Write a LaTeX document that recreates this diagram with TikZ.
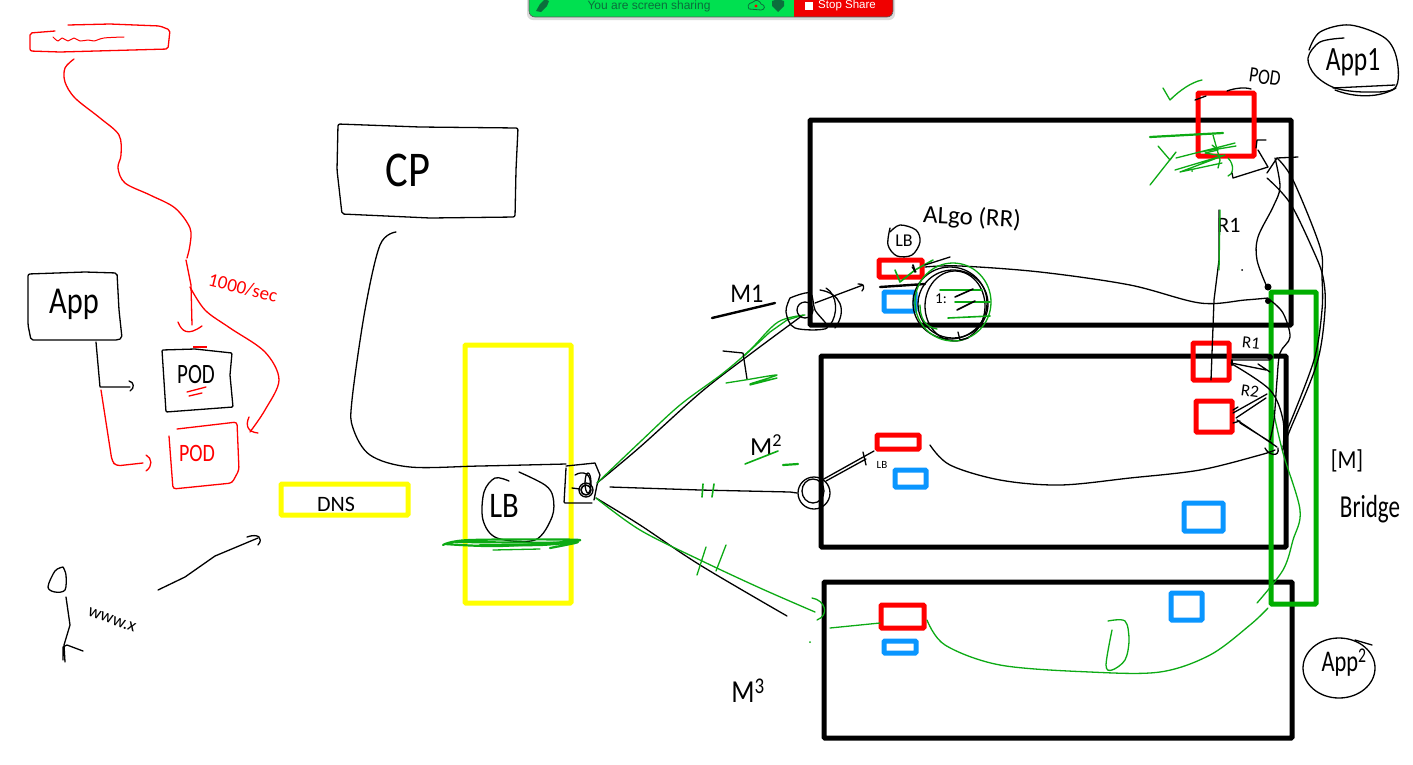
\documentclass[tikz,border=0pt]{standalone}
\usepackage{fontspec}
\setmainfont{Carlito}
\newfontfamily\barfont{Liberation Sans}
\definecolor{kred}{HTML}{FF0000}
\definecolor{kyellow}{HTML}{FFFF00}
\definecolor{kblue}{HTML}{0A96FF}
\definecolor{kgreen}{HTML}{00AE00}
\definecolor{tgreen}{HTML}{0CAA14}
\definecolor{barg}{HTML}{00E050}
\definecolor{bart}{HTML}{0B6E3C}
\definecolor{barr}{HTML}{F00000}
\newcommand\hand[2]{\draw[#1] plot[smooth,tension=.55] coordinates {#2};}
\newcommand\pbox[6]{\node[#2,minimum width={(#5-#3)*1pt},minimum height={(#6-#4)*1pt}] (#1) at ({(#3+#5)/2},{(#4+#6)/2}) {};}
\newcommand\fsz[1]{\fontsize{#1}{#1}\selectfont}
\tikzset{
  thickbox/.style={draw,line width=5pt,rounded corners=1pt,inner sep=0pt,outer sep=0pt},
  kbox/.style={thickbox,draw=black},
  rbox/.style={thickbox,draw=kred},
  ybox/.style={thickbox,draw=kyellow},
  bbox/.style={thickbox,draw=kblue},
  gbox/.style={thickbox,draw=kgreen},
  ink/.style={black,line width=1.3pt,line cap=round,line join=round},
  inkb/.style={black,line width=2.4pt,line cap=round,line join=round},
  inkr/.style={kred,line width=1.3pt,line cap=round,line join=round},
  inkg/.style={tgreen,line width=1.3pt,line cap=round,line join=round},
  inkgb/.style={tgreen,line width=2.2pt,line cap=round,line join=round},
  lab/.style={inner sep=0pt,text=black},
  labr/.style={inner sep=0pt,text=kred},
}
\begin{document}
\begin{tikzpicture}[x=1pt,y=-1pt]
\useasboundingbox (0,0) rectangle (1413,764);
\fill[white] (0,0) rectangle (1413,764);

% ---------- screen sharing bar
\begin{scope}
\clip (0,0) rectangle (1413,764);
\fill[black!14,rounded corners=6pt] (527,-12) rectangle (895,20);
\begin{scope}
\clip[rounded corners=6pt] (529,-12) rectangle (893,17);
\fill[barg] (529,-12) rectangle (794,17);
\fill[barr] (794,-12) rectangle (893,17);
\end{scope}
\draw[black!65,line width=.6pt,rounded corners=6pt] (529,-12) rectangle (893,17);
\fill[bart] (536,11) -- (540,4) -- (545,-1) -- (549,1) -- (547,6) -- (541,12) -- cycle;
\node[inner sep=0pt,text=bart] (sharing) at (649,6) {\barfont\fsz{12}You are screen sharing};
\draw[bart,line width=.8pt] (749,9) .. controls (746,3) and (752,3) .. (753,2) .. controls (756,-2) and (761,2) .. (761,4) .. controls (766,5) and (765,10) .. (761,10) -- cycle;
\fill[kred] (756,6) circle[radius=1.7];
\fill[bart] (772,1) -- (778,-1) -- (784,1) -- (784,6) -- (778,12) -- (772,6) -- cycle;
\fill[white] (805,2) rectangle (813,10);
\node[inner sep=0pt,text=white] (stop) at (847,6) {\barfont\fsz{11.5}Stop Share};
\end{scope}

% ---------- machine boxes
\pbox{mone}{kbox}{810}{120}{1291}{325}
\pbox{mtwo}{kbox}{821}{356}{1286}{547}
\pbox{mthree}{kbox}{824}{582}{1292}{738}

% ---------- yellow
\pbox{svc}{ybox}{465}{345}{571}{603}
\pbox{dns}{ybox}{281}{484}{408}{515}
\node[lab] (dnst) at (336,504) {\fsz{22}DNS};

% ---------- red pods
\pbox{podtop}{rbox}{1198}{93}{1254}{156}
\pbox{podra}{rbox}{1193}{343}{1229}{380}
\pbox{podrb}{rbox}{1196}{401}{1232}{432}
\pbox{lbone}{rbox}{879}{260}{922}{277}
\pbox{lbtwo}{rbox}{877}{435}{919}{449}
\pbox{lbthree}{rbox}{881}{605}{924}{628}

% ---------- blue pods
\pbox{bla}{bbox}{884}{292}{915}{311}
\pbox{blb}{bbox}{895}{470}{926}{487}
\pbox{blc}{bbox}{1184}{503}{1223}{531}
\pbox{bld}{bbox}{1171}{593}{1202}{620}
\pbox{ble}{bbox}{884}{641}{916}{653}

% ---------- bridge
\pbox{bridgebox}{gbox}{1271}{292}{1316}{604}
\node[lab,xscale=.85] (mt) at (1347,461) {\fsz{26}[M]};
\node[lab,xscale=.72] (bt) at (1370,509) {\fsz{32}Bridge};

% ---------- left red top box and wire
\draw[inkr,rounded corners=2pt] (55,31) -- (30,33) -- (30,51) -- (60,52) -- (168,49) -- (170,30) -- (160,26) -- (110,24) -- (68,25);
\hand{inkr,line width=1pt}{(53,37) (58,41) (62,38) (68,41) (74,38) (80,41) (88,40) (94,41) (104,38) (124,37)}
\coordinate (wa) at (74,59);
\coordinate (wb) at (187,258);
\hand{inkr}{(wa) (65,68) (65,82) (75,98) (100,118) (119,135) (121,155) (118,168) (125,183) (150,195) (175,208) (190,228) (190,245) (wb)}
\coordinate (wc) at (192,325);
\draw[inkr] (186,260) -- (191,285) -- (wc);
\draw[inkr] (178,322) .. controls (182,332) and (188,336) .. (202,326);
\hand{inkr}{(190,287) (205,310) (230,328) (265,352) (279,380) (265,410) (250,432)}
\draw[inkr] (249,417) .. controls (245,426) and (248,432) .. (258,433);
\node[labr,rotate=-14] (rate) at (243,288) {\fsz{19}1000/sec};

% ---------- App
\draw[ink,rounded corners=2pt] (28,274) -- (85,272) -- (117,273) -- (119,310) -- (122,338) -- (118,340) -- (31,340) -- (28,325) -- cycle;
\node[lab,xscale=.8] (app) at (74,304) {\fsz{38}App};
\draw[ink,rounded corners=1pt] (162,350) -- (195,349) -- (232,353) -- (230,375) -- (233,407) -- (166,412) -- cycle;
\node[lab,xscale=.75] (podk) at (196,375) {\fsz{28}POD};
\draw[kred,line width=1.6pt] (193,347) -- (207,347);
\draw[inkr] (187,392) -- (206,387) (189,396) -- (202,393);
\draw[inkr,rounded corners=3pt] (177,429) -- (237,422) -- (239,470) -- (232,483) -- (173,489) -- (169,436);
\node[labr,xscale=.8] (podred) at (197,453) {\fsz{25}POD};
\coordinate (appout) at (96,342);
\coordinate (podin) at (130,387);
\draw[ink] (appout) -- (100,387) -- (podin);
\draw[ink] (129,381) .. controls (134,382) and (135,388) .. (130,391);
\draw[inkr,rounded corners=4pt] (101,390) -- (112,461) -- (116,466) -- (143,463);
\draw[inkr] (146,455) .. controls (152,458) and (153,466) .. (146,471);

% ---------- CP
\draw[ink,rounded corners=2pt] (338,124) -- (420,127) -- (518,128) -- (516,170) -- (515,217) -- (430,218) -- (342,214) -- (337,170) -- cycle;
\node[lab,xscale=.85] (cp) at (408,170) {\fsz{50}CP};
\coordinate (cpout) at (396,232);
\coordinate (lbin) at (566,464);
\hand{ink}{(cpout) (380,245) (365,310) (352,400) (353,428) (370,455) (410,467) (480,466) (lbin)}

% ---------- service LB
\hand{ink}{(509,481) (495,478) (484,492) (483,520) (497,538) (535,540) (552,517) (553,497) (545,485) (519,472)}
\node[lab,xscale=.85] (lbcirc) at (504,506) {\fsz{36}LB};
\hand{inkgb}{(443,545) (470,540) (580,540) (500,546) (445,544)}
\hand{inkgb}{(480,545) (540,545) (578,542) (550,548)}
\draw[inkgb] (455,542) -- (575,543);
\draw[inkg] (493,550) -- (540,549);
\draw[ink,rounded corners=1pt] (566,468) -- (564,503) -- (592,503);
\draw[ink] (566,466) -- (595,463) -- (600,475) -- (597,485) -- (594,500);
\draw[ink,line width=1.6pt] (586,490) circle[radius=5];
\draw[ink] (586,490) circle[radius=7];
\draw[ink] (588,483) ellipse[x radius=3,y radius=10];
\draw[ink] (575,475) .. controls (583,470) and (592,474) .. (590,485) (572,488) -- (580,489);

% ---------- M links
\coordinate (hub) at (597,483);
\coordinate (huba) at (596,498);
\coordinate (mone-in) at (803,315);
\coordinate (mtwo-in) at (797,493);
\coordinate (thr) at (787,616);
\coordinate (thrg) at (815,612);
\hand{ink}{(hub) (640,447) (700,393) (745,358) (mone-in)}
\hand{inkg}{(hub) (640,442) (680,405) (722,374) (750,350) (778,322) (805,315)}
\draw[inkg] (744,356) -- (770,332) -- (787,320) -- (800,316);
\draw[ink] (610,487) -- (700,490) -- (790,492) -- (mtwo-in);
\draw[inkg,line width=1.6pt] (703,484) -- (702,497) (714,484) -- (712,497);
\hand{ink}{(huba) (640,525) (700,565) (thr)}
\hand{inkg}{(huba) (640,530) (700,560) (760,588) (thrg)}
\draw[inkg] (697,575) -- (706,547) (716,571) -- (726,545);
\draw[inkg] (812,598) .. controls (825,600) and (830,615) .. (817,620);
\fill[tgreen] (810,642) circle[radius=1];
\draw[inkg] (830,628) -- (860,625) -- (880,623);
\coordinate (mthrout) at (927,620);
\coordinate (brin) at (1268,608);
\hand{inkg}{(mthrout) (945,645) (1000,665) (1090,672) (1160,672) (1210,655) (1250,625) (brin)}
\hand{inkg}{(1108,621) (1125,621) (1129,640) (1125,660) (1112,670) (1106,665) (1112,630)}
\hand{inkg}{(1273,410) (1283,453) (1300,510) (1293,540) (1283,570) (1257,603)}

% ---------- M1 detail
\node[lab,xscale=.9] (mlabone) at (747,294) {\fsz{27}M1};
\draw[inkb] (712,318) -- (775,303);
\draw[ink] (723,351) -- (743,353) -- (747,379);
\hand{inkg}{(726,383) (745,380) (777,375) (750,384) (777,378) (750,385)}
\hand{ink}{(790,298) (810,293) (815,310) (827,328) (795,328) (786,312) (790,298)}
\draw[ink] (805,310) circle[radius=8];
\draw[ink] (820,290) .. controls (840,293) and (848,310) .. (835,328);
\draw[ink] (826,288) .. controls (838,295) and (838,315) .. (830,325);
\coordinate (monein) at (815,303);
\coordinate (monehead) at (863,285);
\draw[ink] (monein) -- (monehead);
\draw[ink] (858,284) .. controls (864,283) and (865,288) .. (862,291);

\node[lab] (lbl) at (904,241) {\fsz{18}LB};
\hand{ink}{(890,228) (888,245) (897,256) (912,255) (920,242) (916,230) (900,225) (890,232)}
\node[lab,rotate=-3] (algo) at (972,218) {\fsz{25}ALgo (RR)};
\draw[inkb] (880,287) -- (925,284);
\draw[inkg,line width=1.6pt] (895,270) -- (900,282) -- (915,270) -- (933,260);
\draw[ink] (912,267) -- (916,272) (925,265) -- (950,257);
\draw[ink,line width=1.8pt] (913,265) -- (915,272);

\coordinate (algoout) at (925,267);
\coordinate (brtop) at (1268,298);
\hand{ink}{(algoout) (960,266) (1040,272) (1130,285) (1200,303) (1245,300) (brtop)}

% ---------- big circle
\draw[ink] (953,304) ellipse[x radius=35,y radius=34];
\draw[ink] (950,303) ellipse[x radius=37,y radius=36];
\draw[ink] (955,306) ellipse[x radius=30,y radius=35];
\draw[inkg] (953,302) ellipse[x radius=38,y radius=39];
\draw[inkg] (920,305) .. controls (920,318) and (925,327) .. (937,329);
\draw[inkg,line width=1.6pt] (940,290) -- (982,290) (955,302) -- (990,302) (948,318) -- (990,316);
\node[lab] (onec) at (941,299) {\fsz{15}1:};
\draw[ink,line width=1.6pt] (955,297) -- (973,289) (957,310) -- (975,301);
\draw[ink] (958,332) -- (960,340) -- (968,338);

% ---------- M2 / M3
\node[lab] (mlabtwo) at (766,445) {\fsz{26}M\textsuperscript{2}};
\draw[inkg,line width=1.6pt] (745,464) -- (778,451);
\draw[inkgb] (783,465) -- (798,464);
\draw[ink] (814,493) circle[radius=16];
\draw[ink] (813,491) ellipse[x radius=11,y radius=12];
\coordinate (mtwoa) at (822,480);
\coordinate (mtwob) at (874,451);
\draw[ink] (mtwoa) -- (mtwob);
\draw[ink] (826,481) -- (866,459) (863,452) -- (866,465);
\node[lab] (lbtiny) at (882,465) {\fsz{11}LB};
\node[lab,xscale=.85] (mlabthr) at (748,691) {\fsz{32}M\textsuperscript{3}};
\coordinate (mtwoout) at (930,445);
\coordinate (brmid) at (1275,450);
\hand{ink}{(mtwoout) (950,465) (1000,480) (1060,485) (1130,478) (1200,470) (1260,455) (brmid)}

% ---------- POD top labels and scribbles
\node[lab,rotate=-8,xscale=.8] (popl) at (1265,77) {\fsz{22}POD};
\draw[ink] (1195,100) -- (1206,96) (1227,91) .. controls (1235,88) and (1245,87) .. (1251,89);
\draw[inkg] (1163,88) -- (1170,100) .. controls (1180,90) and (1192,82) .. (1202,80);
\draw[inkgb] (1150,137) -- (1223,133);
\draw[inkg] (1158,146) -- (1170,160) -- (1176,152) -- (1150,185);
\draw[inkg] (1176,158) -- (1235,143) -- (1200,152) -- (1236,146);
\draw[inkg] (1175,170) -- (1225,155) -- (1180,172) -- (1222,163);
\draw[inkg] (1213,135) -- (1220,160) -- (1218,168) (1228,158) .. controls (1235,165) and (1233,175) .. (1228,176);
\draw[inkg] (1212,145) -- (1218,150) -- (1205,153) -- (1222,156);
\fill[tgreen] (1192,171) circle[radius=1];

% ---------- right wiring
\node[lab] (rone) at (1229,225) {\fsz{22}R1};
\draw[ink] (1219,210) -- (1219,260) -- (1214,300) -- (1211,380);
\draw[inkg] (1220,210) -- (1219,270);
\fill[black] (1242,270) circle[radius=1];
\draw[ink] (1257,140) -- (1266,140) (1257,140) -- (1256,148);
\draw[ink] (1258,150) -- (1268,167) -- (1233,178) -- (1232,173);
\draw[ink] (1267,173) -- (1277,158) -- (1298,157);
\coordinate (wiretop) at (1275,158);
\coordinate (wirebot) at (1267,287);
\hand{ink}{(wiretop) (1280,187) (1273,207) (1258,237) (1257,260) (wirebot)}
\hand{ink}{(1267,178) (1290,203) (1313,250) (1323,277) (1325,310) (1317,363) (1290,430) (1283,447)}
\hand{ink}{(1277,158) (1293,180) (1320,247) (1322,277) (1322,310) (1314,360) (1288,428)}
\hand{ink}{(1270,300) (1283,313) (1290,337) (1280,353) (1277,380) (1274,420) (1270,440)}
\fill[black] (1268,287) circle[radius=3.5];
\fill[black] (1268,301) circle[radius=3];
\fill[black] (1270,357) circle[radius=3];
\draw[ink] (1231,363) -- (1266,370) (1233,360) -- (1270,360) (1258,364) -- (1270,372);
\hand{ink}{(1232,364) (1270,390) (1283,420) (1283,450)}
\draw[inkb] (1232,360) -- (1232,365);
\draw[ink] (1233,413) -- (1267,394) (1236,418) -- (1266,398);
\draw[ink] (1237,420) -- (1277,447) (1240,423) -- (1272,443);
\draw[ink] (1233,410) -- (1238,407) (1233,423) -- (1240,421);
\node[lab,rotate=-6] (roneb) at (1251,343) {\fsz{17}R1};
\node[lab,rotate=-8] (rtwob) at (1250,391) {\fsz{17}R2};
\draw[ink] (1265,448) .. controls (1268,455) and (1280,458) .. (1278,448);

% ---------- Apps
\node[lab,xscale=.75] (appone) at (1353,62) {\fsz{34}App1};
\hand{ink}{(1344,38) (1320,42) (1308,58) (1315,75) (1335,88) (1365,92) (1395,88) (1397,60) (1385,38) (1350,25) (1320,32) (1309,50)}
\draw[ink] (1333,88) -- (1395,85) (1335,90) .. controls (1355,98) and (1380,98) .. (1396,88);
\node[lab,xscale=.75] (apptwo) at (1344,663) {\fsz{30}App\textsuperscript{2}};
\draw[ink] (1339,668) ellipse[x radius=36,y radius=30];
\draw[ink] (1355,640) -- (1372,645);

% ---------- user
\hand{ink}{(63,567) (55,571) (48,587) (55,592) (65,590) (66,575) (63,567)}
\draw[ink] (66,597) -- (70,625) -- (64,645) -- (65,662) (63,660) -- (63,647) -- (67,645) -- (83,651);
\node[lab,rotate=-20] (www) at (112,620) {\fsz{18}www.x};
\coordinate (ua) at (158,590);
\coordinate (ub) at (258,538);
\draw[ink] (ua) -- (185,577) -- (215,556) -- (ub);
\draw[ink] (247,537) .. controls (258,533) and (264,538) .. (258,545);
\end{tikzpicture}
\end{document}
